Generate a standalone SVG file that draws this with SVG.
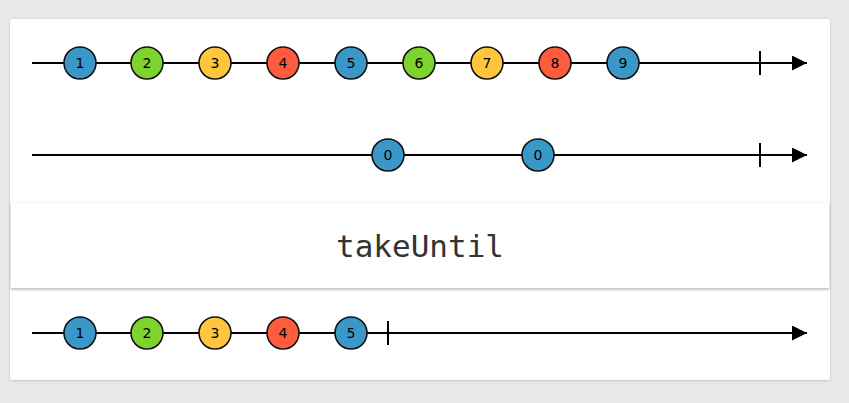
<svg xmlns="http://www.w3.org/2000/svg" width="849" height="403" viewBox="0 0 849 403">
<defs>
<style>
.line{stroke:#000;stroke-width:2;fill:none}
.tick{stroke:#000;stroke-width:2}
.m circle{stroke:#111;stroke-width:1.6}
.m text{font-family:"DejaVu Sans","Noto Sans",sans-serif;font-size:14px;text-anchor:middle;fill:#000}
.blue{fill:#3a98c9}.green{fill:#7ed32f}.yellow{fill:#ffc53d}.red{fill:#ff5c3d}
.op{font-family:"DejaVu Sans Mono","Liberation Mono",monospace;font-size:31px;fill:#333;text-anchor:middle}
</style>
<marker id="arr" markerWidth="16" markerHeight="16" refX="15" refY="7.5" orient="auto" markerUnits="userSpaceOnUse">
<path d="M0,0 L15,7.5 L0,15 Z" fill="#000"/>
</marker>
<filter id="sh" x="-5%" y="-20%" width="110%" height="150%">
<feDropShadow dx="0" dy="1.5" stdDeviation="1.5" flood-color="#000" flood-opacity="0.3"/>
</filter>
<filter id="sh2" x="-5%" y="-5%" width="110%" height="110%">
<feDropShadow dx="0" dy="0.5" stdDeviation="0.8" flood-color="#000" flood-opacity="0.2"/>
</filter>
</defs>
<rect x="0" y="0" width="849" height="403" fill="#e8e8e8"/>
<rect x="10" y="19" width="820" height="361" rx="2" fill="#fff" filter="url(#sh2)"/>
<g id="connectors">
<line class="line" x1="32" y1="63" x2="807" y2="63" marker-end="url(#arr)"/>
<line class="tick" x1="760" y1="51" x2="760" y2="75"/>
<line class="line" x1="32" y1="155" x2="807" y2="155" marker-end="url(#arr)"/>
<line class="tick" x1="760" y1="143" x2="760" y2="167"/>
<line class="line" x1="32" y1="333" x2="807" y2="333" marker-end="url(#arr)"/>
<line class="tick" x1="388" y1="321" x2="388" y2="345"/>
</g>
<g id="op">
<rect x="11" y="203" width="818" height="85" fill="#fff" filter="url(#sh)"/>
<text class="op" x="420" y="257">takeUntil</text>
</g>
<g id="source1" class="m">
<g id="s1-1"><circle class="blue" cx="80" cy="63" r="16"/><text x="80" y="68">1</text></g>
<g id="s1-2"><circle class="green" cx="147" cy="63" r="16"/><text x="147" y="68">2</text></g>
<g id="s1-3"><circle class="yellow" cx="215" cy="63" r="16"/><text x="215" y="68">3</text></g>
<g id="s1-4"><circle class="red" cx="283" cy="63" r="16"/><text x="283" y="68">4</text></g>
<g id="s1-5"><circle class="blue" cx="351" cy="63" r="16"/><text x="351" y="68">5</text></g>
<g id="s1-6"><circle class="green" cx="419" cy="63" r="16"/><text x="419" y="68">6</text></g>
<g id="s1-7"><circle class="yellow" cx="487" cy="63" r="16"/><text x="487" y="68">7</text></g>
<g id="s1-8"><circle class="red" cx="555" cy="63" r="16"/><text x="555" y="68">8</text></g>
<g id="s1-9"><circle class="blue" cx="623" cy="63" r="16"/><text x="623" y="68">9</text></g>
</g>
<g id="source2" class="m">
<g id="s2-1"><circle class="blue" cx="388" cy="155" r="16"/><text x="388" y="160">0</text></g>
<g id="s2-2"><circle class="blue" cx="538" cy="155" r="16"/><text x="538" y="160">0</text></g>
</g>
<g id="result" class="m">
<g id="r-1"><circle class="blue" cx="80" cy="333" r="16"/><text x="80" y="338">1</text></g>
<g id="r-2"><circle class="green" cx="147" cy="333" r="16"/><text x="147" y="338">2</text></g>
<g id="r-3"><circle class="yellow" cx="215" cy="333" r="16"/><text x="215" y="338">3</text></g>
<g id="r-4"><circle class="red" cx="283" cy="333" r="16"/><text x="283" y="338">4</text></g>
<g id="r-5"><circle class="blue" cx="351" cy="333" r="16"/><text x="351" y="338">5</text></g>
</g>
</svg>
